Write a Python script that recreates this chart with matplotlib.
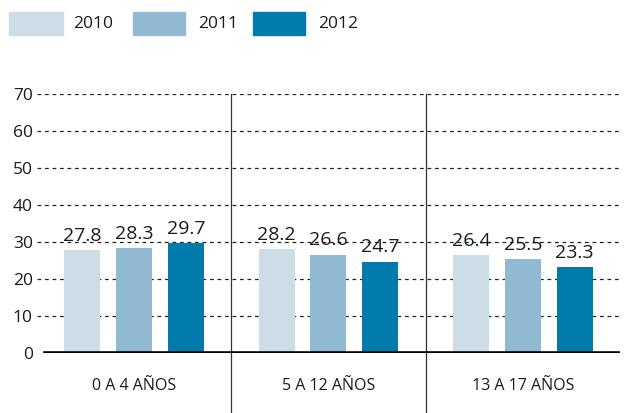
import matplotlib
matplotlib.use("Agg")
import matplotlib.pyplot as plt
from matplotlib.patches import Rectangle
import numpy as np

plt.rcParams['font.family'] = ['Open Sans', 'DejaVu Sans']

groups = ["0 A 4 AÑOS", "5 A 12 AÑOS", "13 A 17 AÑOS"]
years = ["2010", "2011", "2012"]
values = {
    "2010": [27.8, 28.2, 26.4],
    "2011": [28.3, 26.6, 25.5],
    "2012": [29.7, 24.7, 23.3],
}
colors = {"2010": "#CCDDE7", "2011": "#8FBAD2", "2012": "#007BAC"}
yticks = [0, 10, 20, 30, 40, 50, 60, 70]

fig = plt.figure(figsize=(6.25, 4.13), dpi=100)
ax = fig.add_axes([0.059, 0.145, 0.933, 0.627])

x = np.arange(len(groups))
offset = 0.267
width = 0.185

# dashed grid first, bars on top
for t in yticks[1:]:
    ax.axhline(t, color="#222222", lw=0.9, ls=(0, (3, 3)), zorder=0)

for i, yr in enumerate(years):
    pos = x + (i - 1) * offset
    ax.bar(pos, values[yr], width=width, color=colors[yr], zorder=2)
    for px, v in zip(pos, values[yr]):
        ax.text(px, v + 2.5, f"{v}", ha="center", va="baseline", fontsize=14,
                color="#1a1a1a", zorder=3)

# thick baseline
ax.axhline(0, xmin=0.014, xmax=1, color="black", lw=2.6, zorder=4)

# group separators running below the axis
for s in [0.5, 1.5]:
    ax.plot([s, s], [70, -17], color="#333333", lw=0.9, clip_on=False, zorder=1)

ax.set_xlim(-0.5, 2.5)
ax.set_ylim(0, 70)
ax.set_yticks(yticks)
ax.set_yticklabels([str(t) for t in yticks], fontsize=12.5, color="#1a1a1a")
ax.tick_params(axis="y", length=0, pad=3)
ax.set_xticks(x)
ax.set_xticklabels(groups, fontsize=11.5, color="#1a1a1a")
ax.tick_params(axis="x", length=0, pad=18)
for sp in ax.spines.values():
    sp.set_visible(False)

# legend drawn by hand
W, H = 625.0, 413.0
leg_boxes = [(9, 54), (133, 52), (253, 52)]
leg_text_x = [73, 198, 318]
for yr, (lx, lw), tx in zip(years, leg_boxes, leg_text_x):
    fig.add_artist(Rectangle((lx / W, 1 - 35 / H), lw / W, 23 / H,
                             transform=fig.transFigure, color=colors[yr]))
    fig.text(tx / W, 1 - 23.5 / H, yr, fontsize=12.5, va="center", ha="left",
             color="#1a1a1a")

fig.savefig("out.png", dpi=100)
